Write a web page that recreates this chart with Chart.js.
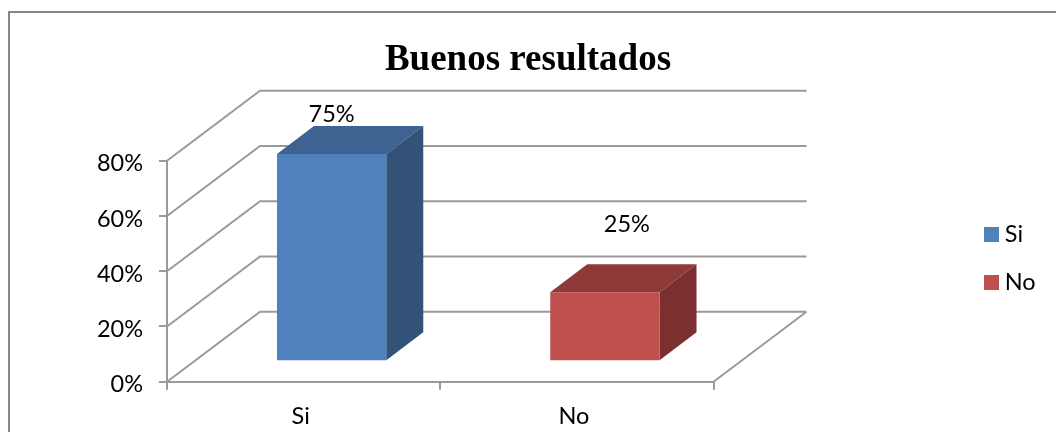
<!DOCTYPE html>
<html>
<head>
<meta charset="utf-8">
<style>html,body{margin:0;padding:0;background:#fff}canvas{display:block}</style>
<script src="https://cdn.jsdelivr.net/npm/chart.js@4"></script>
</head>
<body>
<canvas id="c" width="1056" height="432"></canvas>
<script>
const categories = ['Si', 'No'];
const siValues = [75, null];
const noValues = [null, 25];
const titleText = 'Buenos resultados';
const barColors = {Si: ['#4F81BD', '#3E6291', '#335278'], No: ['#C0504D', '#8E3A38', '#7B302F']};
const labelOffsets = {Si: [0, -40], No: [22, -68]};

const FRAME = '#878787';
const GREY = '#9A9A9A';
const DEPTH = [93, -70];
const BAR_SHIFT = [28, -20.4];
const BAR_DEPTH = [37, -28];
const FONT = 'Lato, Carlito, "Open Sans", sans-serif';
const FONT_SIZE = 23.5;

function swatch(color) {
  const cv = document.createElement('canvas');
  cv.width = 15; cv.height = 15;
  const g = cv.getContext('2d');
  g.fillStyle = color;
  g.fillRect(0, 0, 15, 15);
  return cv;
}

const threeD = {
  id: 'threeD',
  afterLayout(chart) {
    const l = chart.legend, t = chart.titleBlock;
    l.left = 964.5; l.right = 1056; l.top = 198; l.bottom = 400;
    t.left = 0; t.right = 1056; t.top = 38; t.bottom = 82.4;
  },
  beforeDraw(chart) {
    const ctx = chart.ctx, {x, y} = chart.scales;
    ctx.save();
    ctx.fillStyle = '#fff';
    ctx.fillRect(0, 0, 1056, 432);
    ctx.strokeStyle = FRAME;
    ctx.lineWidth = 2;
    ctx.beginPath();
    ctx.moveTo(9, 432); ctx.lineTo(9, 12); ctx.lineTo(1056, 12);
    ctx.stroke();
    // wall and floor lines taken from the scales
    ctx.strokeStyle = GREY;
    ctx.beginPath();
    y.ticks.forEach(tk => {
      const py = y.getPixelForValue(tk.value);
      ctx.moveTo(x.left, py);
      ctx.lineTo(x.left + DEPTH[0], py + DEPTH[1]);
      ctx.lineTo(x.right + DEPTH[0], py + DEPTH[1]);
    });
    const y0 = y.getPixelForValue(0);
    ctx.moveTo(x.right, y0);
    ctx.lineTo(x.right + DEPTH[0], y0 + DEPTH[1]);
    ctx.stroke();
    ctx.restore();
  },
  beforeDatasetsDraw(chart) {
    const ctx = chart.ctx;
    ctx.save();
    ctx.translate(BAR_SHIFT[0], BAR_SHIFT[1]);
    const dx = BAR_DEPTH[0], dy = BAR_DEPTH[1];
    chart.data.datasets.forEach((ds, i) => {
      const colors = barColors[ds.label];
      chart.getDatasetMeta(i).data.forEach((bar, j) => {
        if (ds.data[j] == null) return;
        const {x, y, base, width} = bar.getProps(['x', 'y', 'base', 'width']);
        const l = x - width / 2, r = x + width / 2;
        ctx.fillStyle = colors[1];
        ctx.beginPath();
        ctx.moveTo(l, y); ctx.lineTo(l + dx, y + dy); ctx.lineTo(r + dx, y + dy); ctx.lineTo(r, y);
        ctx.closePath(); ctx.fill();
        ctx.fillStyle = colors[2];
        ctx.beginPath();
        ctx.moveTo(r, y); ctx.lineTo(r + dx, y + dy); ctx.lineTo(r + dx, base + dy); ctx.lineTo(r, base);
        ctx.closePath(); ctx.fill();
      });
    });
  },
  afterDatasetsDraw(chart) {
    const ctx = chart.ctx;
    ctx.restore();
    ctx.save();
    ctx.fillStyle = '#000';
    ctx.font = FONT_SIZE + 'px ' + FONT;
    ctx.textAlign = 'center';
    ctx.textBaseline = 'middle';
    chart.data.datasets.forEach((ds, i) => {
      chart.getDatasetMeta(i).data.forEach((bar, j) => {
        if (ds.data[j] == null) return;
        const off = labelOffsets[ds.label];
        ctx.fillText(ds.data[j] + '%', bar.x + BAR_SHIFT[0] + off[0], bar.y + BAR_SHIFT[1] + off[1]);
      });
    });
    ctx.restore();
  }
};

new Chart(document.getElementById('c'), {
  type: 'bar',
  data: {
    labels: categories,
    datasets: [
      {label: 'Si', data: siValues, backgroundColor: barColors.Si[0]},
      {label: 'No', data: noValues, backgroundColor: barColors.No[0]}
    ]
  },
  options: {
    responsive: false,
    animation: false,
    devicePixelRatio: 1,
    layout: {padding: {left: 67, right: 342.5, top: 116.3, bottom: 0}},
    datasets: {bar: {grouped: false, barPercentage: 0.4, categoryPercentage: 1, clip: false}},
    scales: {
      x: {
        afterFit(s) { s.height = 50.3; },
        grid: {drawOnChartArea: false, drawTicks: true, offset: true, tickLength: 8, color: GREY, lineWidth: 2},
        border: {color: GREY, width: 2},
        ticks: {color: '#000', font: {family: FONT, size: FONT_SIZE}, padding: 13, labelOffset: -3, maxRotation: 0, minRotation: 0, autoSkip: false}
      },
      y: {
        min: 0, max: 80,
        afterFit(s) { s.width = 100; },
        grid: {drawOnChartArea: false, drawTicks: true, tickLength: 8, color: GREY, lineWidth: 2},
        border: {color: GREY, width: 2},
        ticks: {stepSize: 20, color: '#000', font: {family: FONT, size: FONT_SIZE}, padding: 16, labelOffset: 3, callback: v => v + '%'}
      }
    },
    plugins: {
      tooltip: {enabled: false},
      title: {display: true, text: titleText, color: '#000', padding: 0, font: {family: '"Liberation Serif", serif', size: 37, weight: 'bold'}},
      legend: {
        position: 'chartArea', align: 'start',
        labels: {
          color: '#000', usePointStyle: true, pointStyleWidth: 4, boxHeight: 15, padding: 24.5,
          font: {family: FONT, size: FONT_SIZE},
          generateLabels: chart => Chart.defaults.plugins.legend.labels.generateLabels(chart)
            .map(it => ({...it, pointStyle: swatch(it.fillStyle)}))
        }
      }
    }
  },
  plugins: [threeD]
});
</script>
</body>
</html>
